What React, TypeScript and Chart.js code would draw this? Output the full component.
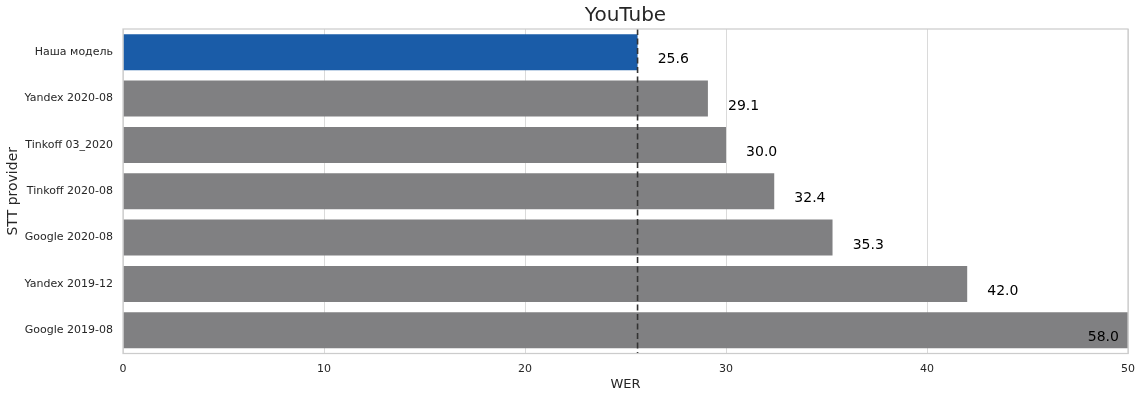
import React, { useEffect, useRef } from "react";
import { Chart, registerables } from "chart.js";

Chart.register(...registerables);

const categories = [
  "Наша модель",
  "Yandex 2020-08",
  "Tinkoff 03_2020",
  "Tinkoff 2020-08",
  "Google 2020-08",
  "Yandex 2019-12",
  "Google 2019-08",
];
const werValues = [25.6, 29.1, 30.0, 32.4, 35.3, 42.0, 58.0];
const barColors = ["#1a5ca8", "#808082", "#808082", "#808082", "#808082", "#808082", "#808082"];
const referenceLine = 25.6;
const xTicks = [0, 10, 20, 30, 40, 50];
const chartTitle = "YouTube";
const xTitle = "WER";
const yTitle = "STT provider";

const FONT = "'DejaVu Sans', sans-serif";

const overlayPlugin = {
  id: "overlay",
  afterDatasetsDraw(chart: any) {
    const { ctx, chartArea, scales } = chart;
    const x = scales.x;
    const y = scales.y;
    ctx.save();
    const rx = x.getPixelForValue(referenceLine);
    ctx.strokeStyle = "#333333";
    ctx.lineWidth = 1.6;
    ctx.setLineDash([6, 3.5]);
    ctx.beginPath();
    ctx.moveTo(rx, chartArea.top);
    ctx.lineTo(rx, chartArea.bottom);
    ctx.stroke();
    ctx.setLineDash([]);
    ctx.fillStyle = "#000000";
    ctx.font = `14px ${FONT}`;
    ctx.textAlign = "left";
    ctx.textBaseline = "middle";
    werValues.forEach((v, i) => {
      const lx = x.getPixelForValue(Math.min(v + 1, 48));
      const ly = y.getPixelForValue(i) + 7.5;
      ctx.fillText(v.toFixed(1), lx, ly);
    });
    ctx.strokeStyle = "#cccccc";
    ctx.lineWidth = 1.25;
    ctx.strokeRect(chartArea.left, chartArea.top, chartArea.right - chartArea.left, chartArea.bottom - chartArea.top);
    // title centered over plot area
    ctx.fillStyle = "#262626";
    ctx.font = `20px ${FONT}`;
    ctx.textAlign = "center";
    ctx.textBaseline = "middle";
    ctx.fillText(chartTitle, (chartArea.left + chartArea.right) / 2, 16);
    ctx.restore();
  },
};

export default function App() {
  const ref = useRef<HTMLCanvasElement | null>(null);
  useEffect(() => {
    document.body.style.margin = "0";
    const chart = new Chart(ref.current as HTMLCanvasElement, {
      type: "bar",
      data: {
        labels: categories,
        datasets: [
          {
            data: werValues,
            backgroundColor: barColors,
            borderWidth: 0,
            categoryPercentage: 0.776,
            barPercentage: 1,
          },
        ],
      },
      options: {
        indexAxis: "y",
        animation: false,
        responsive: false,
        maintainAspectRatio: false,
        layout: { padding: { left: 0, right: 13, top: 29, bottom: 0 } },
        plugins: {
          legend: { display: false },
          tooltip: { enabled: false },
          title: { display: false },
        },
        scales: {
          x: {
            min: 0,
            max: 50,
            afterBuildTicks(scale: any) {
              scale.ticks = xTicks.map((v) => ({ value: v }));
            },
            afterFit(scale: any) {
              scale.height = 45.5;
              scale.paddingRight = 0;
              scale.paddingLeft = 0;
            },
            grid: { color: "#dadada", lineWidth: 1, drawTicks: false },
            border: { display: false },
            ticks: {
              color: "#262626",
              font: { family: FONT, size: 11 },
              padding: 9.5,
              maxRotation: 0,
            },
            title: {
              display: true,
              text: xTitle,
              color: "#262626",
              font: { family: FONT, size: 13 },
              padding: { top: 2, bottom: 7 },
            },
          },
          y: {
            afterFit(scale: any) {
              scale.width = 123;
              scale.paddingTop = 0;
              scale.paddingBottom = 0;
            },
            grid: { display: false, drawTicks: false },
            border: { display: false },
            ticks: {
              color: "#262626",
              font: { family: FONT, size: 11 },
              padding: 10,
            },
            title: {
              display: true,
              text: yTitle,
              color: "#262626",
              font: { family: FONT, size: 14 },
              padding: { top: 5, bottom: 0 },
            },
          },
        },
      },
      plugins: [overlayPlugin],
    } as any);
    return () => chart.destroy();
  }, []);
  return (
    <div style={{ position: "fixed", left: 0, top: 0, width: 1141, height: 399, background: "#fff" }}>
      <canvas ref={ref} width={1141} height={399} style={{ width: 1141, height: 399 }} />
    </div>
  );
}
